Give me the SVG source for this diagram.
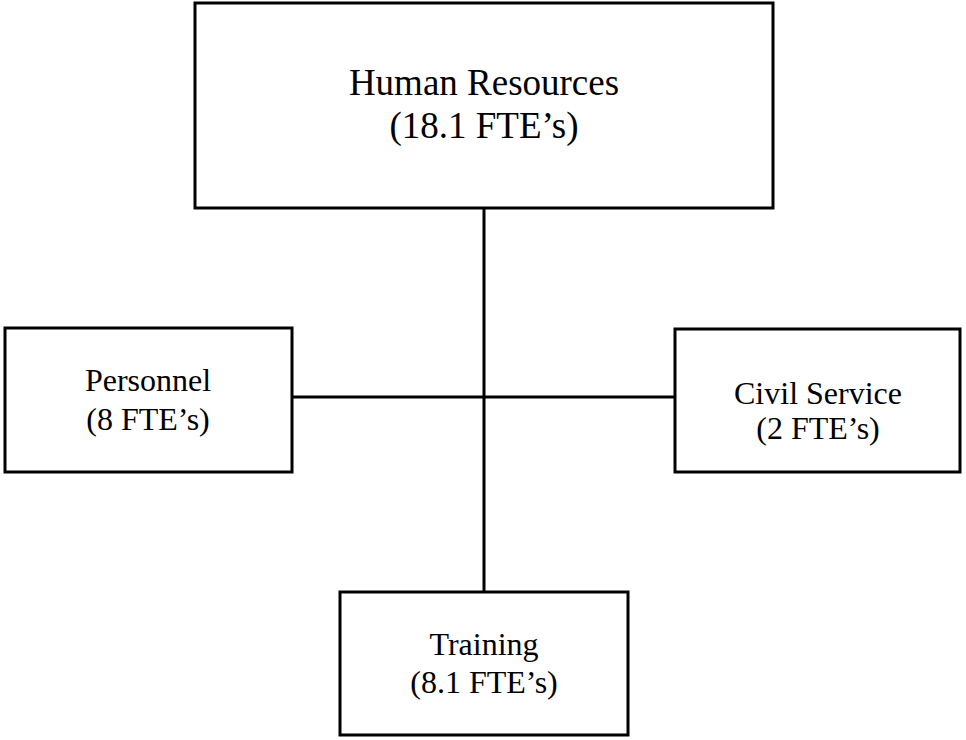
<svg xmlns="http://www.w3.org/2000/svg" width="966" height="740" viewBox="0 0 966 740">
  <style>
    .box { fill: #ffffff; stroke: #000000; stroke-width: 3; }
    .link { stroke: #000000; stroke-width: 3; fill: none; }
    .label { font-family: "Liberation Serif", "Times New Roman", serif; fill: #000000; text-anchor: middle; }
    .big { font-size: 37px; }
    .small { font-size: 32px; }
  </style>
  <rect width="966" height="740" fill="#ffffff"/>
  <g id="connectors">
    <line class="link" x1="484" y1="208" x2="484" y2="592"/>
    <line class="link" x1="292" y1="397" x2="675" y2="397"/>
  </g>
  <g id="human-resources">
    <rect class="box" x="195" y="3" width="578" height="205"/>
    <text class="label big" x="484" y="95">Human Resources</text>
    <text class="label big" x="484" y="138">(18.1 FTE’s)</text>
  </g>
  <g id="personnel">
    <rect class="box" x="5" y="328" width="287" height="144"/>
    <text class="label small" x="148" y="391">Personnel</text>
    <text class="label small" x="148" y="430">(8 FTE’s)</text>
  </g>
  <g id="civil-service">
    <rect class="box" x="675" y="329" width="285" height="143"/>
    <text class="label small" x="818" y="404">Civil Service</text>
    <text class="label small" x="818" y="439">(2 FTE’s)</text>
  </g>
  <g id="training">
    <rect class="box" x="340" y="592" width="288" height="143"/>
    <text class="label small" x="484" y="655">Training</text>
    <text class="label small" x="484" y="693">(8.1 FTE’s)</text>
  </g>
</svg>
